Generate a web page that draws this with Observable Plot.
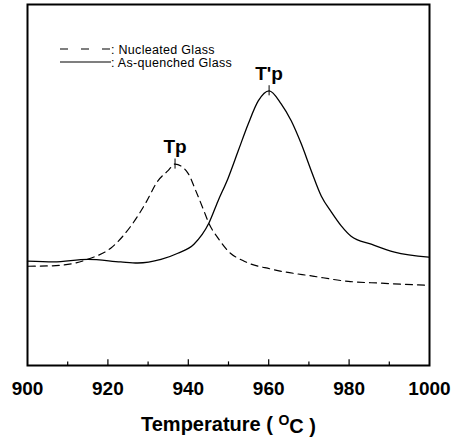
<!DOCTYPE html>
<html><head><meta charset="utf-8">
<script src="https://cdn.jsdelivr.net/npm/d3@7"></script>
<script src="https://cdn.jsdelivr.net/npm/@observablehq/plot@0.6"></script>
<style>body{margin:0;background:#fff}</style>
</head><body><div id="chart"></div>
<script>
// As-quenched glass (solid line)
const quenchedT = [900, 906.5, 915, 923.2, 927.4, 933.2, 937.4, 941.4, 945.1, 947.4, 949.9, 952.4, 954.9, 957.4, 960.1, 963.1, 965.6, 968.1, 970.6, 973.1, 975.6, 978.1, 980.5, 985.5, 991.3, 999.8];
const quenchedV = [28.9, 28.7, 29.4, 28.7, 28.4, 29.4, 31.1, 33.6, 39.4, 45.6, 51.9, 59.4, 66.9, 73.3, 76.1, 72.5, 67.8, 61.4, 53.9, 46.9, 42.5, 38.6, 35.8, 33.6, 31.4, 30.0];
// Nucleated glass (dashed line)
const nucleatedT = [900.2, 905.7, 911.5, 915.7, 920.7, 925.7, 929.4, 932.4, 934.9, 936.7, 939.9, 941.9, 943.9, 945.1, 947.4, 949.9, 953.9, 960.6, 971.3, 979.8, 988.0, 999.8];
const nucleatedV = [27.5, 27.6, 28.3, 29.7, 32.5, 38.6, 45.0, 51.1, 53.9, 55.8, 53.3, 48.3, 42.8, 39.4, 35.3, 31.7, 28.9, 26.7, 24.7, 23.3, 22.8, 22.2];
// Peaks
const peakT = [936.7, 960.1];
const peakV = [55.8, 76.1];
const peakLabels = ["Tp", "T'p"];
// Axis
const xTickLabels = [900, 920, 940, 960, 980, 1000];
const xMinorTicks = [910, 920, 930, 940, 950, 960, 970, 980, 990];
const legendLabels = ["Nucleated Glass", "As-quenched Glass"];
const xLabelParts = ["Temperature ( ", "O", "C )"];

const quenched = quenchedT.map((t, i) => ({t, v: quenchedV[i]}));
const nucleated = nucleatedT.map((t, i) => ({t, v: nucleatedV[i]}));
const peaks = peakT.map((t, i) => ({t, v: peakV[i], label: peakLabels[i]}));

const font = "'Liberation Sans', Arial, Helvetica, sans-serif";

const chart = Plot.plot({
  width: 452,
  height: 440,
  marginTop: 4,
  marginLeft: 27,
  marginRight: 23,
  marginBottom: 75,
  style: {fontFamily: font, background: "#fff", color: "#000"},
  x: {domain: [900, 1000]},
  y: {domain: [0, 100], axis: null},
  marks: [
    Plot.ruleX(xMinorTicks, {x: d => d, y1: 0, y2: d => d % 20 === 0 ? 1.6 : 1.0, stroke: "#000", strokeWidth: 1.2}),
    Plot.line(nucleated, {x: "t", y: "v", curve: "monotone-x", stroke: "#000", strokeWidth: 1.2, strokeDasharray: "7,5"}),
    Plot.line(quenched, {x: "t", y: "v", curve: "monotone-x", stroke: "#000", strokeWidth: 1.3}),
    Plot.ruleX(peaks, {x: "t", y1: d => d.v - 1.4, y2: d => d.v + 1.4, stroke: "#000", strokeWidth: 1}),
    Plot.text(peaks, {x: "t", y: "v", text: "label", lineAnchor: "bottom", dy: -11, fontSize: 19, fontWeight: "bold", fill: "#000", fontFamily: font}),
    Plot.axisX({ticks: xTickLabels, tickFormat: d => String(d), tickSize: 0, tickPadding: 16, fontSize: 19, fontWeight: "bold", label: xLabelParts.join(""), labelAnchor: "center", labelArrow: "none", labelOffset: 65}),
    Plot.frame({stroke: "#000", strokeWidth: 2})
  ]
});

const svg = d3.select(chart);
svg.selectAll("[aria-label='x-axis tick label'] text").attr("font-weight", "bold").attr("font-size", 19);
// Axis label with a superscript O
svg.selectAll("[aria-label='x-axis label'] text").each(function() {
  const t = d3.select(this);
  t.text(null).attr("font-weight", "bold").attr("font-size", 20);
  t.append("tspan").text(xLabelParts[0]);
  t.append("tspan").text(xLabelParts[1]).attr("font-size", 14).attr("dy", "-0.4em");
  t.append("tspan").text(xLabelParts[2]).attr("dy", "0.4em");
});
// Legend inside the frame
const lg = svg.append("g").attr("font-family", font).attr("font-size", 12.5)
  .attr("text-anchor", "start").attr("letter-spacing", "0.3px");
legendLabels.forEach((label, i) => {
  const y = 49 + i * 13;
  lg.append("line").attr("x1", 60).attr("x2", 111).attr("y1", y).attr("y2", y)
    .attr("stroke", "#000").attr("stroke-width", 1.1)
    .attr("stroke-dasharray", i === 0 ? "8,13" : null);
  lg.append("text").attr("x", 111).attr("y", y + 4.5).text(": " + label);
});
document.getElementById("chart").appendChild(chart);
</script>
</body></html>
